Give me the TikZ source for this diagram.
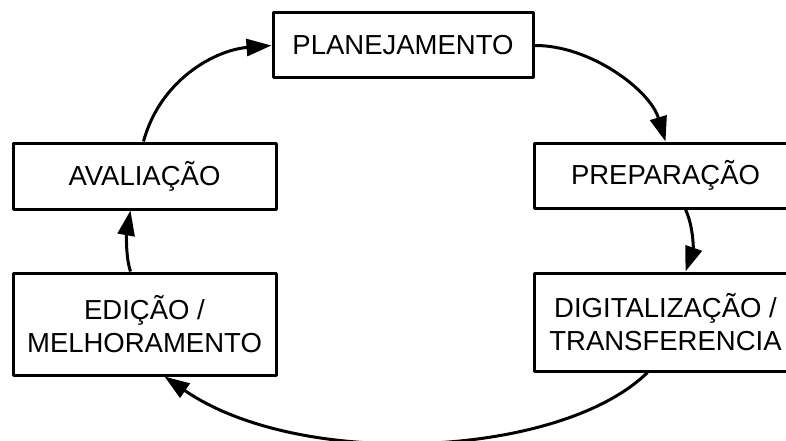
\documentclass[tikz,border=0pt]{standalone}
\usepackage{fontspec}
\setmainfont{Liberation Sans}
\usetikzlibrary{arrows.meta}
\begin{document}
\begin{tikzpicture}[x=1pt,y=-1pt,
  stage/.style={draw,line width=3pt,line join=round,inner sep=0pt,align=center,
    font=\fontsize{27.5}{33}\selectfont},
  link/.style={line width=3pt,-{Triangle[length=25pt,width=17pt]}}]
  \useasboundingbox (0,0) rectangle (786,441);
  \clip (0,0) rectangle (786,441);

  % the five stages of the cycle
  \node[stage,minimum width=260pt,minimum height=65pt] (plan) at (403,45.5) {PLANEJAMENTO};
  \node[stage,minimum width=263pt,minimum height=65pt] (prep) at (665.5,175.5) {PREPARAÇÃO};
  \node[stage,minimum width=263pt,minimum height=98pt] (digi) at (665.5,322) {DIGITALIZAÇÃO /\\TRANSFERENCIA};
  \node[stage,minimum width=263pt,minimum height=102pt] (edic) at (144.5,324) {EDIÇÃO /\\MELHORAMENTO};
  \node[stage,minimum width=263pt,minimum height=66pt] (aval) at (144.5,176) {AVALIAÇÃO};

  % connectors going round clockwise
  \draw[link] (plan.east) .. controls (590,45) and (650,90) .. (prep.north);
  \draw[link] ([xshift=20pt]prep.south) .. controls (694,228) and (693,250) .. ([xshift=20pt]digi.north);
  \draw[link] ([xshift=-18pt]digi.south) .. controls (560,458) and (300,470) .. ([xshift=20pt]edic.south);
  \draw[link] ([xshift=-14pt]edic.north) .. controls (125,255) and (127,230) .. ([xshift=-14pt]aval.south);
  \draw[link] ([xshift=-1pt]aval.north) .. controls (160,80) and (215,50) .. (plan.west);
\end{tikzpicture}
\end{document}
